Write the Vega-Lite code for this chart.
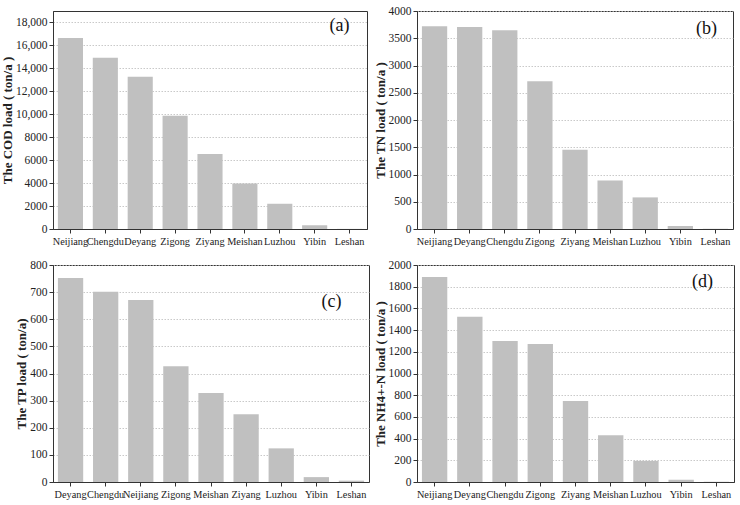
{
  "$schema": "https://vega.github.io/schema/vega-lite/v6.json",
  "background": "white",
  "padding": {"left": 0, "top": 4, "right": 2, "bottom": 2},
  "config": {
    "font": "Liberation Serif",
    "view": {"stroke": "#333333", "strokeWidth": 1},
    "axis": {
      "labelFont": "Liberation Serif", "labelFontSize": 11.5, "labelColor": "#222",
      "titleFont": "Liberation Serif", "titleFontSize": 13, "titleFontWeight": "bold", "titleColor": "#222",
      "domainColor": "#333", "tickColor": "#333", "tickSize": 4,
      "gridColor": "#bbbbbb", "gridDash": [1.5, 1.5], "gridWidth": 0.8
    },
    "axisX": {"labelFontSize": 10.3}
  },
  "datasets": {
    "cod": [
      {"city": "Neijiang", "value": 16640}, {"city": "Chengdu", "value": 14930}, {"city": "Deyang", "value": 13280},
      {"city": "Zigong", "value": 9880}, {"city": "Ziyang", "value": 6540}, {"city": "Meishan", "value": 3970},
      {"city": "Luzhou", "value": 2200}, {"city": "Yibin", "value": 320}, {"city": "Leshan", "value": 10}
    ],
    "tn": [
      {"city": "Neijiang", "value": 3720}, {"city": "Deyang", "value": 3707}, {"city": "Chengdu", "value": 3646},
      {"city": "Zigong", "value": 2712}, {"city": "Ziyang", "value": 1455}, {"city": "Meishan", "value": 892},
      {"city": "Luzhou", "value": 580}, {"city": "Yibin", "value": 55}, {"city": "Leshan", "value": 4}
    ],
    "tp": [
      {"city": "Deyang", "value": 752}, {"city": "Chengdu", "value": 701}, {"city": "Neijiang", "value": 671},
      {"city": "Zigong", "value": 427}, {"city": "Meishan", "value": 328}, {"city": "Ziyang", "value": 250},
      {"city": "Luzhou", "value": 124}, {"city": "Yibin", "value": 18}, {"city": "Leshan", "value": 5}
    ],
    "nh4": [
      {"city": "Neijiang", "value": 1890}, {"city": "Deyang", "value": 1522}, {"city": "Chengdu", "value": 1300},
      {"city": "Zigong", "value": 1272}, {"city": "Ziyang", "value": 747}, {"city": "Meishan", "value": 432},
      {"city": "Luzhou", "value": 195}, {"city": "Yibin", "value": 21}, {"city": "Leshan", "value": 2}
    ]
  },
  "columns": 2,
  "spacing": {"column": 3, "row": 11},
  "concat": [
    {
      "width": 314, "height": 218,
      "layer": [
        {
          "data": {"name": "cod"},
          "mark": {"type": "bar", "color": "#c0c0c0"},
          "encoding": {
            "x": {"field": "city", "type": "nominal", "sort": null,
              "scale": {"paddingInner": 0.28, "paddingOuter": 0.14},
              "axis": {"title": null, "labelAngle": 0, "labelOverlap": false, "labelBound": false, "labelPadding": 3}},
            "y": {"field": "value", "type": "quantitative",
              "scale": {"domain": [0, 19000], "nice": false},
              "axis": {"title": "The COD load ( ton/a )", "values": [0,2000,4000,6000,8000,10000,12000,14000,16000,18000],
                "tickCount": 30, "labelOverlap": false,
                "labelExpr": "datum.value >= 10000 ? format(datum.value, ',') : format(datum.value, 'd')", "titlePadding": 1}}
          }
        },
        {
          "data": {"values": [{"label": "(a)"}]},
          "mark": {"type": "text", "fontSize": 18, "font": "Liberation Serif", "baseline": "middle", "align": "center", "dx": -10, "color": "#111"},
          "encoding": {"x": {"datum": "Leshan"}, "y": {"datum": 17700}, "text": {"field": "label"}}
        }
      ]
    },
    {
      "width": 316, "height": 218,
      "layer": [
        {
          "data": {"name": "tn"},
          "mark": {"type": "bar", "color": "#c0c0c0"},
          "encoding": {
            "x": {"field": "city", "type": "nominal", "sort": null,
              "scale": {"paddingInner": 0.28, "paddingOuter": 0.14},
              "axis": {"title": null, "labelAngle": 0, "labelOverlap": false, "labelBound": false, "labelPadding": 3}},
            "y": {"field": "value", "type": "quantitative",
              "scale": {"domain": [0, 4000], "nice": false},
              "axis": {"title": "The  TN load ( ton/a )", "values": [0,500,1000,1500,2000,2500,3000,3500,4000], "tickCount": 30, "format": "d", "labelOverlap": false, "titlePadding": 1}}
          }
        },
        {
          "data": {"values": [{"label": "(b)"}]},
          "mark": {"type": "text", "fontSize": 18, "font": "Liberation Serif", "baseline": "middle", "align": "center", "dx": -9, "color": "#111"},
          "encoding": {"x": {"datum": "Leshan"}, "y": {"datum": 3670}, "text": {"field": "label"}}
        }
      ]
    },
    {
      "width": 316, "height": 217,
      "layer": [
        {
          "data": {"name": "tp"},
          "mark": {"type": "bar", "color": "#c0c0c0"},
          "encoding": {
            "x": {"field": "city", "type": "nominal", "sort": null,
              "scale": {"paddingInner": 0.28, "paddingOuter": 0.14},
              "axis": {"title": null, "labelAngle": 0, "labelOverlap": false, "labelBound": false, "labelPadding": 3}},
            "y": {"field": "value", "type": "quantitative",
              "scale": {"domain": [0, 800], "nice": false},
              "axis": {"title": "The  TP load ( ton/a)", "values": [0,100,200,300,400,500,600,700,800], "tickCount": 30, "format": "d", "labelOverlap": false, "titlePadding": 1}}
          }
        },
        {
          "data": {"values": [{"label": "(c)"}]},
          "mark": {"type": "text", "fontSize": 18, "font": "Liberation Serif", "baseline": "middle", "align": "center", "dx": -20, "color": "#111"},
          "encoding": {"x": {"datum": "Leshan"}, "y": {"datum": 665}, "text": {"field": "label"}}
        }
      ]
    },
    {
      "width": 317, "height": 217,
      "layer": [
        {
          "data": {"name": "nh4"},
          "mark": {"type": "bar", "color": "#c0c0c0"},
          "encoding": {
            "x": {"field": "city", "type": "nominal", "sort": null,
              "scale": {"paddingInner": 0.28, "paddingOuter": 0.14},
              "axis": {"title": null, "labelAngle": 0, "labelOverlap": false, "labelBound": false, "labelPadding": 3}},
            "y": {"field": "value", "type": "quantitative",
              "scale": {"domain": [0, 2000], "nice": false},
              "axis": {"title": "The  NH4+-N load ( ton/a )", "values": [0,200,400,600,800,1000,1200,1400,1600,1800,2000], "tickCount": 30, "format": "d", "labelOverlap": false, "titlePadding": 1}}
          }
        },
        {
          "data": {"values": [{"label": "(d)"}]},
          "mark": {"type": "text", "fontSize": 18, "font": "Liberation Serif", "baseline": "middle", "align": "center", "dx": -14, "color": "#111"},
          "encoding": {"x": {"datum": "Leshan"}, "y": {"datum": 1846}, "text": {"field": "label"}}
        }
      ]
    }
  ]
}
